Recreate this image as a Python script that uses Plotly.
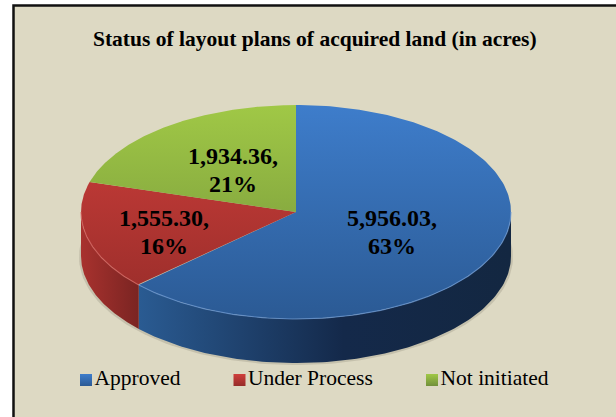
import numpy as np
import plotly.graph_objects as go

categories = ["Approved", "Under Process", "Not initiated"]
values = [5956.03, 1555.30, 1934.36]
label_values = ["5,956.03,", "1,555.30,", "1,934.36,"]
label_percents = ["63%", "16%", "21%"]
title = "Status of layout plans of acquired land (in acres)"

W, H = 616, 417
CX, CY, RX, RY, DEPTH = 296, 212, 215, 107, 44
BG = "#DDD9C3"
top_colors = [("#3E7DCB", "#2B5A94"), ("#CF3F3B", "#962C29"), ("#A0C846", "#71903A")]
side_scales = [
    [[0, "#2A5B92"], [0.55, "#14294A"], [1, "#132741"]],
    [[0, "#A8322E"], [1, "#7A2422"]],
]
rim_colors = ["#6E9BD6", "#D96A66", "#B8D86A"]
legend_x = [86, 239.5, 432]
legend_y = 380
label_pos = [(392, 220), (164, 220), (233, 158)]
LINE_GAP = 28


def pt(theta):
    return CX + RX * np.sin(theta), CY - RY * np.cos(theta)


fractions = np.array(values) / sum(values)
edges = np.concatenate([[0], np.cumsum(fractions)]) * 2 * np.pi

fig = go.Figure()

# soft shadow
t = np.linspace(0, 2 * np.pi, 200)
fig.add_trace(go.Scatter(x=CX + (RX + 2) * np.sin(t), y=CY + DEPTH + 1 - (RY + 1) * np.cos(t),
                         mode="lines", line=dict(width=0), fill="toself",
                         fillcolor="rgba(90,85,70,0.18)", hoverinfo="skip", showlegend=False))

# side walls (only the front half, theta between 90 and 270 degrees)
for i in range(3):
    a, b = max(edges[i], np.pi / 2), min(edges[i + 1], 3 * np.pi / 2)
    if b <= a:
        continue
    th = np.linspace(a, b, 120)
    x, y = pt(th)
    xs = np.concatenate([x, x[::-1], x[:1]])
    ys = np.concatenate([y, y[::-1] + DEPTH, y[:1]])
    scale = side_scales[i]
    if i == 1:
        scale = [[0, scale[0][1]], [1, scale[1][1]]]
    fig.add_trace(go.Scatter(
        x=xs, y=ys, mode="lines", line=dict(width=0), fill="toself",
        fillgradient=dict(type="horizontal", start=float(x.min()), stop=float(x.max()),
                          colorscale=scale),
        hoverinfo="skip", showlegend=False))

# top face
for i in range(3):
    th = np.linspace(edges[i], edges[i + 1], 200)
    x, y = pt(th)
    c0, c1 = top_colors[i]
    fig.add_trace(go.Scatter(
        x=np.concatenate([[CX], x, [CX]]), y=np.concatenate([[CY], y, [CY]]),
        mode="lines", line=dict(width=0), fill="toself",
        fillgradient=dict(type="vertical", start=CY - RY, stop=CY + RY,
                          colorscale=[[0, c0], [1, c1]]),
        hoverinfo="skip", showlegend=False))

# light rim on the front edge of the top face
for i in range(3):
    a, b = max(edges[i], np.pi / 2), min(edges[i + 1], 3 * np.pi / 2)
    if b <= a:
        continue
    x, y = pt(np.linspace(a, b, 120))
    fig.add_trace(go.Scatter(x=x, y=y, mode="lines", line=dict(width=1.2, color=rim_colors[i]),
                             opacity=0.7, hoverinfo="skip", showlegend=False))

# data labels (two lines each, tighter than the library's line spacing)
for (lx, ly), v, p in zip(label_pos, label_values, label_percents):
    fig.add_trace(go.Scatter(x=[lx, lx], y=[ly, ly + LINE_GAP], mode="text", text=[v, p],
                             textfont=dict(family="Liberation Serif", size=24, color="black",
                                           weight="bold"),
                             hoverinfo="skip", showlegend=False))

# legend row
for i, c in enumerate(categories):
    fig.add_trace(go.Scatter(
        x=[legend_x[i]], y=[legend_y], mode="markers+text", text=[c], textposition="middle right",
        marker=dict(symbol="square", size=12, color=top_colors[i][0],
                    gradient=dict(type="vertical", color=top_colors[i][1])),
        textfont=dict(family="Liberation Serif", size=21.5, color="black"),
        hoverinfo="skip", showlegend=False))

fig.update_layout(
    width=W, height=H, margin=dict(l=0, r=0, t=0, b=0), autosize=False,
    paper_bgcolor="white", plot_bgcolor="white", showlegend=False,
    xaxis=dict(range=[0, W], visible=False, fixedrange=True),
    yaxis=dict(range=[H, 0], visible=False, fixedrange=True),
    shapes=[dict(type="rect", xref="x", yref="y", x0=13.5, y0=5.5, x1=W + 20, y1=H + 20,
                 fillcolor=BG, line=dict(color="#111111", width=2.5), layer="below")],
    annotations=[dict(text="<b>" + title + "</b>", x=315, y=39, xref="x", yref="y",
                      showarrow=False, font=dict(family="Liberation Serif", size=21.5, color="black"))],
)
fig.write_html("out.html", config=dict(displayModeBar=False),
               post_script="document.body.style.margin='0';document.body.style.overflow='hidden';")
